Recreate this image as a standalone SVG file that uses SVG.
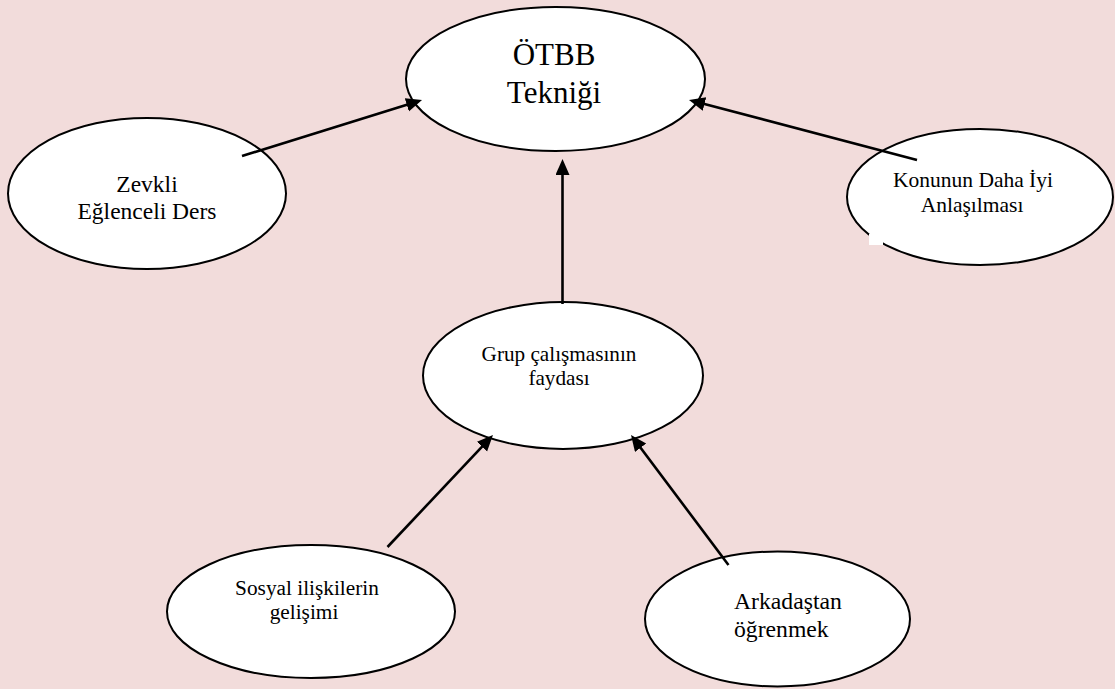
<svg xmlns="http://www.w3.org/2000/svg" width="1115" height="689" viewBox="0 0 1115 689">
  <style>
    .node ellipse { fill: #ffffff; stroke: #000000; stroke-width: 2; }
    text { font-family: "Liberation Serif", "Times New Roman", serif; fill: #000000; }
    .c { text-anchor: middle; }
    .edge { stroke: #000000; stroke-width: 2.6; fill: none; marker-end: url(#arrow); }
  </style>
  <defs>
    <marker id="arrow" markerUnits="userSpaceOnUse" markerWidth="18" markerHeight="16" refX="6" refY="7" orient="auto">
      <path d="M0,0 L16,7 L0,14 z" fill="#000000"/>
    </marker>
  </defs>
  <rect x="0" y="0" width="1115" height="689" fill="#F2DCDB"/>

  <g id="node-otbb" class="node">
    <ellipse cx="555.5" cy="79" rx="149.5" ry="72"/>
    <text class="c" x="554" y="65" font-size="31">ÖTBB</text>
    <text class="c" x="554" y="103" font-size="31">Tekniği</text>
  </g>
  <g id="node-zevkli" class="node">
    <ellipse cx="147" cy="193.5" rx="139" ry="75.5"/>
    <text class="c" x="147" y="192" font-size="23.5">Zevkli</text>
    <text class="c" x="147" y="219" font-size="23.5">Eğlenceli Ders</text>
  </g>
  <g id="node-konunun" class="node">
    <ellipse cx="980" cy="197" rx="133" ry="68"/>
    <rect x="869" y="234" width="14" height="11" fill="#ffffff"/>
    <text class="c" x="973" y="187" font-size="21.5">Konunun Daha İyi</text>
    <text class="c" x="972" y="212" font-size="21.5">Anlaşılması</text>
  </g>
  <g id="node-grup" class="node">
    <ellipse cx="563" cy="375.5" rx="140" ry="73.5"/>
    <text class="c" x="559" y="361" font-size="21.2">Grup çalışmasının</text>
    <text class="c" x="559" y="385" font-size="21.2">faydası</text>
  </g>
  <g id="node-sosyal" class="node">
    <ellipse cx="311" cy="611.5" rx="144" ry="66.5"/>
    <text class="c" x="307" y="595" font-size="21.3">Sosyal ilişkilerin</text>
    <text class="c" x="304" y="619" font-size="21.3">gelişimi</text>
  </g>
  <g id="node-arkadastan" class="node">
    <ellipse cx="777.5" cy="619" rx="132.5" ry="67.5"/>
    <text x="734" y="609" font-size="23.7">Arkadaştan</text>
    <text x="734" y="637" font-size="23.7">öğrenmek</text>
  </g>

  <g id="connectors">
    <line class="edge" x1="242" y1="156" x2="412.5" y2="103"/>
    <line class="edge" x1="917" y1="160" x2="698.7" y2="102.5"/>
    <line class="edge" x1="562.5" y1="304" x2="562.5" y2="169"/>
    <line class="edge" x1="387.5" y1="547" x2="486.1" y2="442.3"/>
    <line class="edge" x1="728.5" y1="565" x2="637" y2="443"/>
  </g>
</svg>
